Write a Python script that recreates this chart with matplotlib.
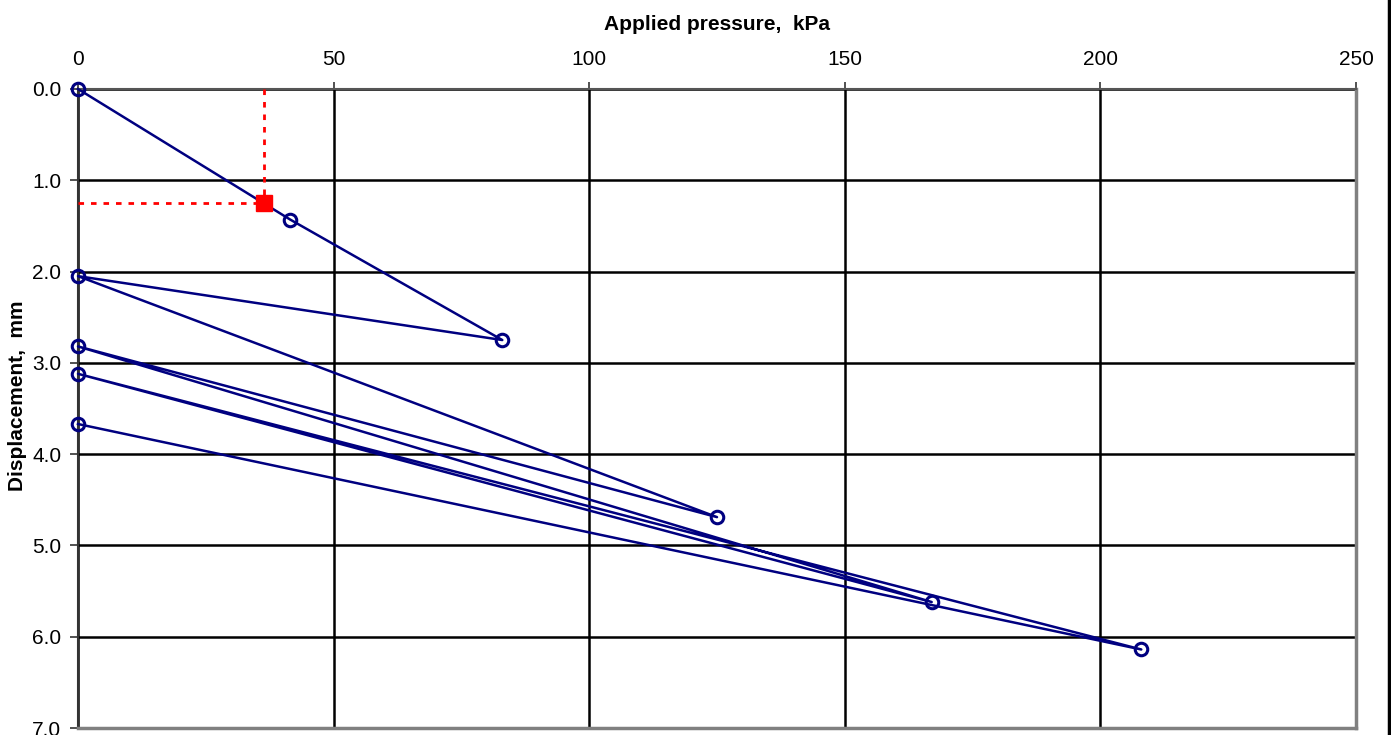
import matplotlib
matplotlib.use("Agg")
import matplotlib.pyplot as plt
from matplotlib.lines import Line2D

# Data: load/unload path (applied pressure kPa, displacement mm)
pressure = [0, 41.5, 83, 0, 125, 0, 167, 0, 208, 0]
displacement = [0.0, 1.43, 2.75, 2.05, 4.69, 2.82, 5.62, 3.12, 6.14, 3.67]

# Marked point (red square) with dashed guide lines
mark_p = 36.3
mark_d = 1.25

x_ticks = [0, 50, 100, 150, 200, 250]
y_ticks = [0.0, 1.0, 2.0, 3.0, 4.0, 5.0, 6.0, 7.0]

plt.rcParams['font.family'] = ['Liberation Sans', 'DejaVu Sans']

fig = plt.figure(figsize=(13.91, 7.35), dpi=100)
ax = fig.add_axes([78/1391, 1 - 728/735, (1356-78)/1391, (728-89)/735])

ax.set_xlim(0, 250)
ax.set_ylim(7.0, 0.0)
ax.xaxis.tick_top()
ax.xaxis.set_label_position('top')
ax.set_xticks(x_ticks)
ax.set_xticklabels([str(v) for v in x_ticks], fontsize=15)
ax.set_yticks(y_ticks)
ax.set_yticklabels([f"{v:.1f}" for v in y_ticks], fontsize=15)
ax.tick_params(axis='x', direction='out', length=5, width=1.2, color='#333333', pad=9.5)
ax.tick_params(axis='y', direction='out', length=6, width=1.2, color='#333333', pad=6)
ax.grid(True, color='black', linewidth=1.8)
ax.set_axisbelow(True)

ax.spines['left'].set_color('#333333')
ax.spines['left'].set_linewidth(1.5)
ax.spines['top'].set_color('#555555')
ax.spines['top'].set_linewidth(1.5)
for s in ['right', 'bottom']:
    ax.spines[s].set_color('#808080')
    ax.spines[s].set_linewidth(2.5)

ax.set_xlabel('Applied pressure,  kPa', fontsize=15, fontweight='bold', labelpad=14)
ax.set_ylabel('Displacement,  mm', fontsize=15, fontweight='bold')
ax.yaxis.set_label_coords((27 - 78) / 1278, 1 - (396 - 89) / 639)

ax.plot(pressure, displacement, color='#000080', linewidth=1.8,
        marker='o', markersize=9, markerfacecolor='none',
        markeredgecolor='#000080', markeredgewidth=2.2, clip_on=False, zorder=5)

ax.plot([mark_p, mark_p], [0, mark_d], color='red', linestyle=(0, (2, 2.5)), linewidth=2, zorder=4)
ax.plot([0, mark_p], [mark_d, mark_d], color='red', linestyle=(0, (2, 2.5)), linewidth=2, zorder=4)
ax.plot([mark_p], [mark_d], marker='s', markersize=11, color='red', linestyle='none', zorder=6)

fig.add_artist(Line2D([1388.5/1391, 1388.5/1391], [0, 1], transform=fig.transFigure,
                      color='black', linewidth=2.5))

fig.savefig('out.png', dpi=100)
